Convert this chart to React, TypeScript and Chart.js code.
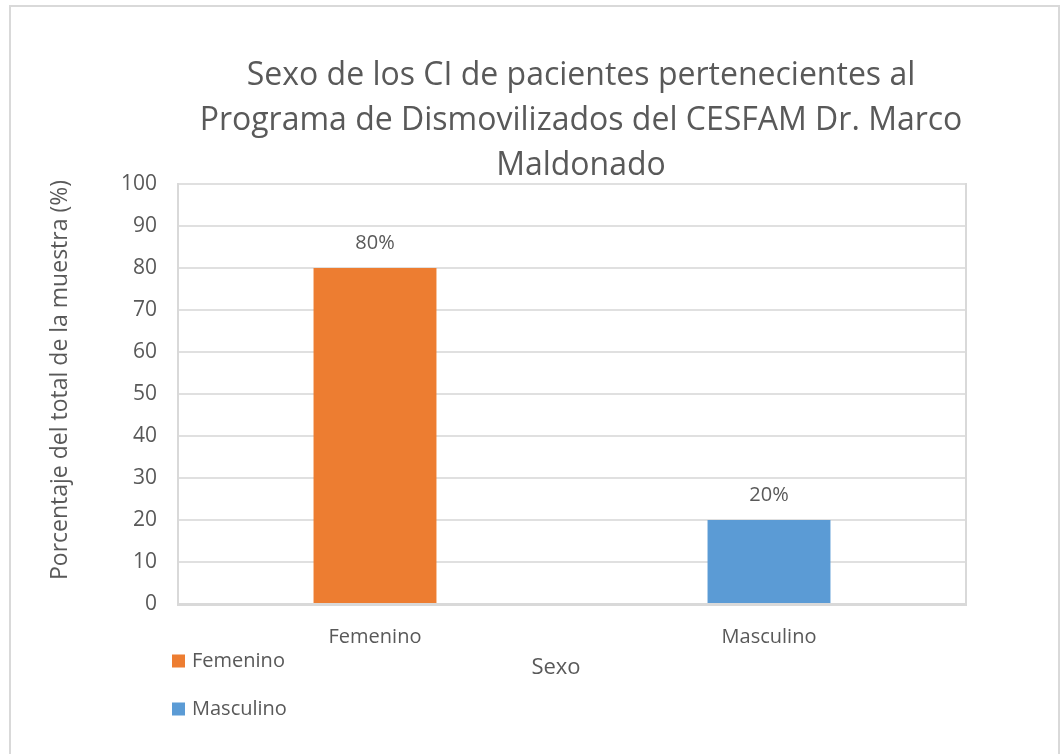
import React, { useEffect, useRef } from "react";
import { Chart, registerables } from "chart.js";

Chart.register(...registerables);

const categories = ["Femenino", "Masculino"];
const values = [80, 20];
const dataLabels = ["80%", "20%"];
const barColors = ["#ED7D31", "#5B9BD5"];
const titleLines = [
  "Sexo de los CI de pacientes pertenecientes al",
  "Programa de Dismovilizados del CESFAM Dr. Marco",
  "Maldonado",
];
const yAxisTitle = "Porcentaje del total de la muestra (%)";
const xAxisTitle = "Sexo";

const FONT = "'Open Sans', 'Noto Sans', sans-serif";
const TEXT = "#595959";
const LINE = "#d9d9d9";

const decorPlugin = {
  id: "decor",
  beforeDraw(chart: any) {
    const { ctx, width, height } = chart;
    ctx.save();
    ctx.fillStyle = "#ffffff";
    ctx.fillRect(0, 0, width, height);
    ctx.strokeStyle = LINE;
    ctx.lineWidth = 2;
    ctx.strokeRect(10, 6, 1049, 760);
    ctx.restore();
  },
  beforeDatasetsDraw(chart: any) {
    const { ctx, chartArea } = chart;
    ctx.save();
    ctx.strokeStyle = LINE;
    ctx.lineWidth = 2;
    ctx.beginPath();
    ctx.moveTo(chartArea.right, chartArea.top - 1);
    ctx.lineTo(chartArea.right, chartArea.bottom);
    ctx.stroke();
    ctx.restore();
  },
  afterDraw(chart: any) {
    const { ctx } = chart;
    ctx.save();
    ctx.fillStyle = TEXT;
    ctx.textBaseline = "middle";

    // Title
    ctx.font = `32px ${FONT}`;
    ctx.textAlign = "center";
    const titleYs = [76, 121, 166];
    titleLines.forEach((line, i) => ctx.fillText(line, 581, titleYs[i]));

    // Data labels
    ctx.font = `20px ${FONT}`;
    const meta = chart.getDatasetMeta(0);
    meta.data.forEach((el: any, i: number) => {
      ctx.fillText(dataLabels[i], el.x, el.y - 25);
    });

    // X axis title
    ctx.font = `22px ${FONT}`;
    ctx.fillText(xAxisTitle, 556, 668);

    // Y axis title
    ctx.save();
    ctx.font = `23px ${FONT}`;
    ctx.translate(60, 380);
    ctx.rotate(-Math.PI / 2);
    ctx.fillText(yAxisTitle, 0, 0);
    ctx.restore();

    // Legend
    ctx.font = `20px ${FONT}`;
    const ds = chart.data.datasets[0];
    const legendYs = [661, 709];
    ctx.textAlign = "left";
    chart.data.labels.forEach((lab: string, i: number) => {
      ctx.fillStyle = ds.backgroundColor[i];
      ctx.fillRect(172, legendYs[i] - 6.5, 13, 13);
      ctx.fillStyle = TEXT;
      ctx.fillText(lab, 192, legendYs[i]);
    });
    ctx.restore();
  },
};

export default function App() {
  const ref = useRef<HTMLCanvasElement | null>(null);

  useEffect(() => {
    if (!ref.current) return;
    const chart = new Chart(ref.current, {
      type: "bar",
      data: {
        labels: categories,
        datasets: [
          {
            label: "Sexo",
            data: values,
            backgroundColor: barColors,
            barPercentage: 0.312,
            categoryPercentage: 1,
          },
        ],
      },
      options: {
        responsive: false,
        animation: false,
        layout: { padding: { top: 184, right: 95, bottom: 0, left: 0 } },
        plugins: {
          legend: { display: false },
          title: { display: false },
          tooltip: { enabled: false },
        },
        scales: {
          x: {
            grid: { display: false, drawTicks: false },
            border: { display: true, color: LINE, width: 3 },
            ticks: { color: TEXT, font: { family: FONT, size: 20 }, padding: 21 },
            afterFit: (s: any) => {
              s.height = 150;
            },
          },
          y: {
            min: 0,
            max: 100,
            ticks: { stepSize: 10, color: TEXT, font: { family: FONT, size: 21 }, padding: 21 },
            grid: { color: "#e0e0e0", lineWidth: 2, drawTicks: false },
            border: { display: true, color: LINE, width: 2 },
            afterFit: (s: any) => {
              s.width = 178;
            },
          },
        },
      },
      plugins: [decorPlugin],
    });
    return () => chart.destroy();
  }, []);

  return (
    <canvas
      ref={ref}
      width={1061}
      height={754}
      style={{ position: "absolute", left: 0, top: 0, width: 1061, height: 754 }}
    />
  );
}
